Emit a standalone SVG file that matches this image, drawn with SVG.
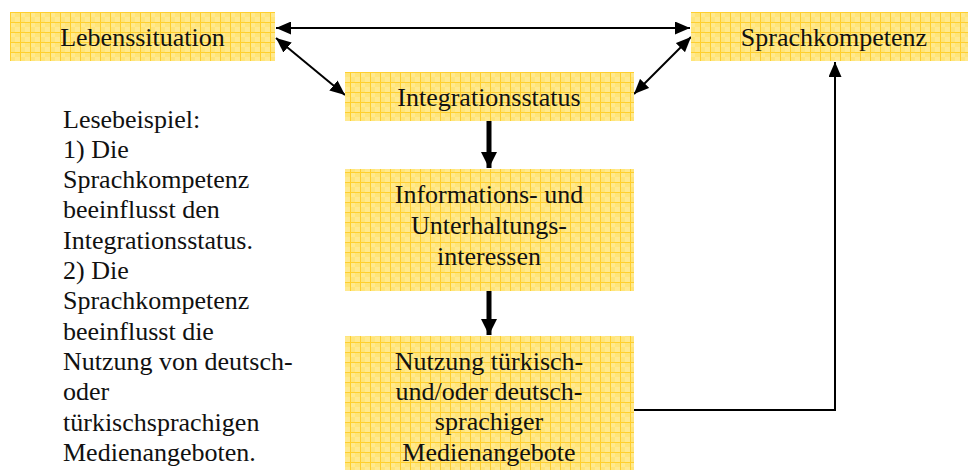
<svg xmlns="http://www.w3.org/2000/svg" width="968" height="470" viewBox="0 0 968 470">
  <defs>
    <pattern id="grid" patternUnits="userSpaceOnUse" x="0" y="2" width="10" height="10">
      <rect width="10" height="10" fill="#FFE57A"/>
      <rect x="0" y="0" width="5" height="5" fill="#FFE98F"/>
      <rect x="5" y="5" width="5" height="5" fill="#FFE98F"/>
      <path d="M0 0.5 H10 M0.5 0 V10" stroke="#FFCF2E" stroke-width="1" fill="none"/>
    </pattern>
    <marker id="arr" viewBox="0 0 15 13" refX="15" refY="6.5" markerWidth="15" markerHeight="13" markerUnits="userSpaceOnUse" orient="auto-start-reverse">
      <path d="M0,0 L15,6.5 L0,13 z" fill="#000"/>
    </marker>
    <marker id="arrThick" viewBox="0 0 16 16" refX="16" refY="8" markerWidth="16" markerHeight="16" markerUnits="userSpaceOnUse" orient="auto">
      <path d="M0,0 L16,8 L0,16 z" fill="#000"/>
    </marker>
  </defs>
  <style>
    .box { fill: url(#grid); }
    text { font-family: 'Liberation Serif', 'DejaVu Serif', serif; font-size: 26px; fill: #111; }
    .lbl { text-anchor: middle; }
    .thin { stroke: #000; stroke-width: 2; fill: none; }
    .thick { stroke: #000; stroke-width: 5; fill: none; }
  </style>
  <rect width="968" height="470" fill="#fff"/>

  <g id="connectors">
    <line class="thin" x1="276" y1="28" x2="690" y2="28" marker-start="url(#arr)" marker-end="url(#arr)"/>
    <line class="thin" x1="276" y1="38" x2="345" y2="95" marker-start="url(#arr)" marker-end="url(#arr)"/>
    <line class="thin" x1="691" y1="37" x2="634" y2="94" marker-start="url(#arr)" marker-end="url(#arr)"/>
    <line class="thick" x1="489" y1="121" x2="489" y2="168" marker-end="url(#arrThick)"/>
    <line class="thick" x1="489" y1="291" x2="489" y2="335" marker-end="url(#arrThick)"/>
    <polyline class="thin" points="634,410 835,410 835,62" marker-end="url(#arr)"/>
  </g>

  <g id="lebenssituation">
    <rect class="box" x="10" y="12" width="265" height="49"/>
    <text class="lbl" x="142.5" y="46" font-family="Liberation Serif, serif">Lebenssituation</text>
  </g>

  <g id="sprachkompetenz">
    <rect class="box" x="691" y="12" width="277" height="49"/>
    <text class="lbl" x="834" y="46">Sprachkompetenz</text>
  </g>

  <g id="integrationsstatus">
    <rect class="box" x="345" y="72" width="289" height="49"/>
    <text class="lbl" x="489" y="106">Integrationsstatus</text>
  </g>

  <g id="interessen">
    <rect class="box" x="345" y="169" width="289" height="122"/>
    <text class="lbl" x="489" y="203">Informations- und</text>
    <text class="lbl" x="489" y="234">Unterhaltungs-</text>
    <text class="lbl" x="489" y="265">interessen</text>
  </g>

  <g id="nutzung">
    <rect class="box" x="345" y="336" width="289" height="134"/>
    <text class="lbl" x="489" y="370">Nutzung türkisch-</text>
    <text class="lbl" x="489" y="400">und/oder deutsch-</text>
    <text class="lbl" x="489" y="430">sprachiger</text>
    <text class="lbl" x="489" y="461">Medienangebote</text>
  </g>

  <g id="lesebeispiel">
    <text x="63" y="128">Lesebeispiel:</text>
    <text x="63" y="158">1) Die</text>
    <text x="63" y="188">Sprachkompetenz</text>
    <text x="63" y="218">beeinflusst den</text>
    <text x="63" y="249">Integrationsstatus.</text>
    <text x="63" y="279">2) Die</text>
    <text x="63" y="309">Sprachkompetenz</text>
    <text x="63" y="340">beeinflusst die</text>
    <text x="63" y="370">Nutzung von deutsch-</text>
    <text x="63" y="400">oder</text>
    <text x="63" y="431">türkischsprachigen</text>
    <text x="63" y="461">Medienangeboten.</text>
  </g>
</svg>
